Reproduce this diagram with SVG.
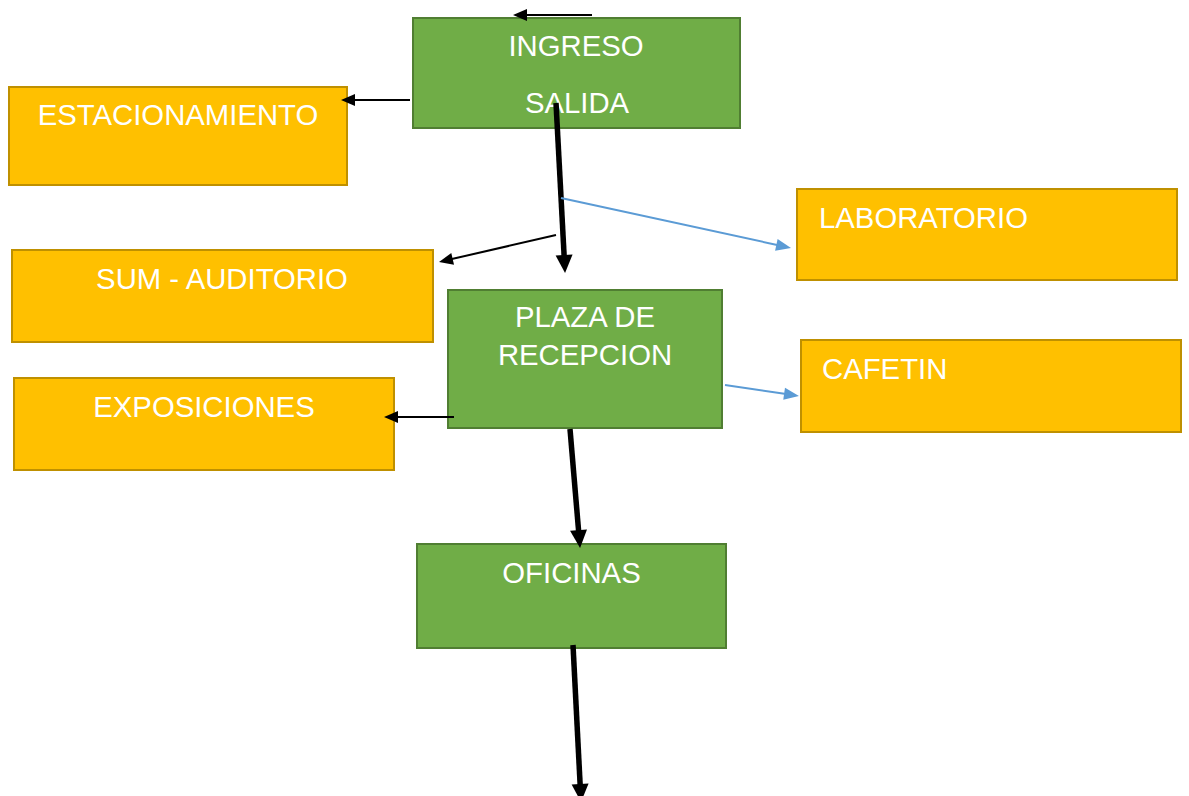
<svg xmlns="http://www.w3.org/2000/svg" width="1189" height="796" viewBox="0 0 1189 796">
  <style>
    .green { fill: #70AD47; stroke: #507E32; stroke-width: 2; }
    .gold { fill: #FFC000; stroke: #BF9000; stroke-width: 2; }
    .label { fill: #FFFFFF; font-family: "Liberation Sans", Arial, sans-serif; font-size: 29.3px; }
    .mid { text-anchor: middle; }
    .thin { stroke: #000000; stroke-width: 2; fill: none; marker-end: url(#headThin); }
    .thick { stroke: #000000; stroke-width: 5.5; fill: none; marker-end: url(#headThick); }
    .blue { stroke: #5B9BD5; stroke-width: 2; fill: none; marker-end: url(#headBlue); }
  </style>
  <defs>
    <marker id="headThin" markerUnits="userSpaceOnUse" markerWidth="14" markerHeight="12" refX="2" refY="6" orient="auto" overflow="visible">
      <path d="M0,0 L14,6 L0,12 z" fill="#000000"/>
    </marker>
    <marker id="headThick" markerUnits="userSpaceOnUse" markerWidth="18" markerHeight="17" refX="2" refY="8.5" orient="auto" overflow="visible">
      <path d="M0,0 L18,8.5 L0,17 z" fill="#000000"/>
    </marker>
    <marker id="headBlue" markerUnits="userSpaceOnUse" markerWidth="15" markerHeight="12" refX="2" refY="6" orient="auto" overflow="visible">
      <path d="M0,0 L15,6 L0,12 z" fill="#5B9BD5"/>
    </marker>
  </defs>

  <rect width="1189" height="796" fill="#FFFFFF"/>

  <g id="ingreso">
    <rect class="green" x="413" y="18" width="327" height="110"/>
    <text class="label mid" x="576" y="56">INGRESO</text>
    <text class="label mid" x="577" y="113">SALIDA</text>
  </g>

  <g id="estacionamiento">
    <rect class="gold" x="9" y="87" width="338" height="98"/>
    <text class="label mid" x="178" y="125">ESTACIONAMIENTO</text>
  </g>

  <g id="laboratorio">
    <rect class="gold" x="797" y="189" width="380" height="91"/>
    <text class="label" x="819" y="228">LABORATORIO</text>
  </g>

  <g id="sum-auditorio">
    <rect class="gold" x="12" y="250" width="421" height="92"/>
    <text class="label mid" x="222" y="289">SUM - AUDITORIO</text>
  </g>

  <g id="plaza">
    <rect class="green" x="448" y="290" width="274" height="138"/>
    <text class="label mid" x="585" y="327">PLAZA DE</text>
    <text class="label mid" x="585" y="365">RECEPCION</text>
  </g>

  <g id="cafetin">
    <rect class="gold" x="801" y="340" width="380" height="92"/>
    <text class="label" x="822" y="379">CAFETIN</text>
  </g>

  <g id="exposiciones">
    <rect class="gold" x="14" y="378" width="380" height="92"/>
    <text class="label mid" x="204" y="417">EXPOSICIONES</text>
  </g>

  <g id="oficinas">
    <rect class="green" x="417" y="544" width="309" height="104"/>
    <text class="label mid" x="571.5" y="583">OFICINAS</text>
  </g>

  <g id="connectors">
    <path class="thin" d="M592,15 L525,15"/>
    <path class="thin" d="M410,100 L353,100"/>
    <path class="thick" d="M556,103 L564.2,257"/>
    <path class="blue" d="M561,198 L778.3,245.2"/>
    <path class="thin" d="M556,235 L450.7,259.3"/>
    <path class="thin" d="M454,417 L396,417"/>
    <path class="blue" d="M725,385 L786.1,394"/>
    <path class="thick" d="M570,429 L578.7,532.1"/>
    <path class="thick" d="M573,645 L580.2,786"/>
  </g>
</svg>
